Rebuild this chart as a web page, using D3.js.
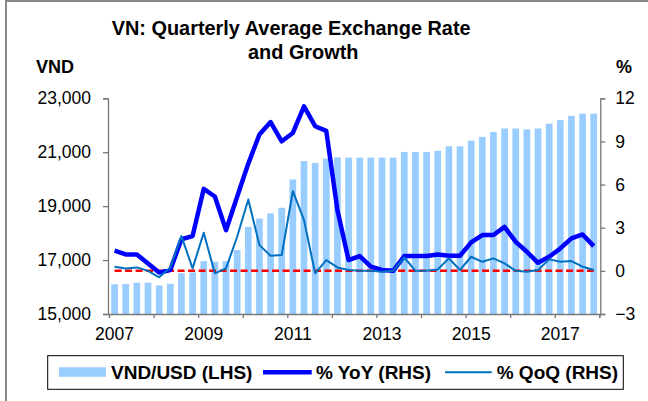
<!DOCTYPE html>
<meta charset="utf-8">
<style>
body { margin: 0; background: #fff; }
text { font-family: "Liberation Sans", Arial, sans-serif; fill: #000; }
.axis text { font-size: 17.5px; }
.axis path, .axis line { stroke: #777; stroke-width: 1.3; }
.bold { font-weight: bold; }
</style>
<body>
<script src="https://cdnjs.cloudflare.com/ajax/libs/d3/7.8.5/d3.min.js"></script>
<script>

// quarterly categories, 2007Q1 .. 2017Q4
var quarters = [
  "2007Q1","2007Q2","2007Q3","2007Q4","2008Q1","2008Q2","2008Q3","2008Q4",
  "2009Q1","2009Q2","2009Q3","2009Q4","2010Q1","2010Q2","2010Q3","2010Q4",
  "2011Q1","2011Q2","2011Q3","2011Q4","2012Q1","2012Q2","2012Q3","2012Q4",
  "2013Q1","2013Q2","2013Q3","2013Q4","2014Q1","2014Q2","2014Q3","2014Q4",
  "2015Q1","2015Q2","2015Q3","2015Q4","2016Q1","2016Q2","2016Q3","2016Q4",
  "2017Q1","2017Q2","2017Q3","2017Q4"
];

// VND per USD, quarterly average (LHS)
var vndUsd = [
  16100,16110,16160,16160,16060,16120,16510,16540,
  16960,16940,16960,17370,18230,18540,18730,18940,
  19990,20670,20600,20760,20810,20800,20800,20800,
  20800,20800,21010,21010,21010,21050,21220,21220,
  21430,21570,21750,21880,21880,21850,21880,22060,
  22190,22350,22430,22430
];

// % YoY (RHS)
var yoy = [
  1.40,1.14,1.14,0.52,-0.12,0.06,2.20,2.42,
  5.70,5.17,2.83,5.15,7.46,9.48,10.35,9.01,
  9.59,11.44,10.06,9.73,4.22,0.75,1.03,0.29,
  0.06,0.00,1.03,1.03,1.03,1.14,1.05,1.05,
  1.98,2.49,2.49,3.06,2.02,1.33,0.56,0.98,
  1.56,2.26,2.53,1.72
];

// % QoQ (RHS)
var qoq = [
  0.29,0.17,0.24,0.00,-0.45,0.24,2.42,0.17,
  2.65,-0.17,0.17,2.37,4.96,1.79,1.05,1.10,
  5.54,3.53,-0.17,0.75,0.24,0.06,0.00,0.00,
  -0.06,0.00,0.93,0.00,0.00,0.10,0.87,0.06,
  0.98,0.63,0.87,0.52,0.00,-0.06,0.06,0.80,
  0.63,0.68,0.29,0.06
];

var leftTicks = [15000,17000,19000,21000,23000];
var rightTicks = [-3,0,3,6,9,12];
var yearLabels = ["2007Q1","2009Q1","2011Q1","2013Q1","2015Q1","2017Q1"];

var W = 648, H = 401;
// plot box (note: "top" is reserved on window, so p-prefixed names)
var pLeft = 109, pRight = 599.3, pTop = 98.3, pBottom = 314;

var svg = d3.select("body").append("svg").attr("width", W).attr("height", H);

// outer frame (only top/left edges visible in the picture)
svg.append("path").attr("d", "M6," + H + "V1H" + W)
   .attr("fill", "none").attr("stroke", "#888").attr("stroke-width", 2);

var x = d3.scaleBand().domain(quarters).range([pLeft, pRight])
          .paddingInner(0.4).paddingOuter(0.2);
var xLin = d3.scaleLinear().domain([0, quarters.length]).range([pLeft, pRight]);
var yL = d3.scaleLinear().domain([15000, 23000]).range([pBottom, pTop]);
var yR = d3.scaleLinear().domain([-3, 12]).range([pBottom, pTop]);

function cx(d, i) { return x(quarters[i]) + x.bandwidth() / 2; }

// bars
svg.append("g").selectAll("rect").data(vndUsd).enter().append("rect")
   .attr("x", function(d, i) { return x(quarters[i]); })
   .attr("y", function(d) { return yL(d); })
   .attr("width", x.bandwidth())
   .attr("height", function(d) { return pBottom - yL(d); })
   .attr("fill", "#99CCFF");

// zero line
svg.append("line")
   .attr("x1", cx(0, 0)).attr("x2", cx(0, quarters.length - 1))
   .attr("y1", yR(0)).attr("y2", yR(0))
   .attr("stroke", "#FF0000").attr("stroke-width", 2.5)
   .attr("stroke-dasharray", "7,3.5");

var line = d3.line().x(cx).y(function(d) { return yR(d); });

svg.append("path").datum(yoy).attr("d", line)
   .attr("fill", "none").attr("stroke", "#0000FF").attr("stroke-width", 4.5)
   .attr("stroke-linejoin", "round");

svg.append("path").datum(qoq).attr("d", line)
   .attr("fill", "none").attr("stroke", "#0070C0").attr("stroke-width", 2)
   .attr("stroke-linejoin", "round");

// axes
svg.append("g").attr("class", "axis")
   .attr("transform", "translate(" + (pLeft - 1) + ",0)")
   .call(d3.axisLeft(yL).tickValues(leftTicks).tickSize(5).tickPadding(12)
         .tickFormat(d3.format(",")));

svg.append("g").attr("class", "axis")
   .attr("transform", "translate(" + (pRight + 1) + ",0)")
   .call(d3.axisRight(yR).tickValues(rightTicks).tickSize(5).tickPadding(10));

svg.append("g").attr("class", "axis")
   .attr("transform", "translate(0," + pBottom + ")")
   .call(d3.axisBottom(xLin).tickValues(d3.range(0, quarters.length + 1, 4))
         .tickSize(4).tickFormat(""));

var xl = svg.append("g").attr("class", "axis")
   .attr("transform", "translate(0," + pBottom + ")")
   .call(d3.axisBottom(x).tickValues(yearLabels).tickSize(0).tickPadding(14)
         .tickFormat(function(d) { return d.slice(0, 4); }));
xl.select(".domain").remove();
svg.selectAll(".axis .tick text").attr("fill", "#000");

// titles
svg.append("text").attr("class", "bold").attr("x", 111.7).attr("y", 35)
   .style("font-size", "19.9px").text("VN: Quarterly Average Exchange Rate");
svg.append("text").attr("class", "bold").attr("x", 248).attr("y", 58.5)
   .style("font-size", "19.9px").text("and Growth");
svg.append("text").attr("class", "bold").attr("x", 36).attr("y", 73.3)
   .style("font-size", "18px").text("VND");
svg.append("text").attr("class", "bold").attr("x", 616).attr("y", 73.3)
   .style("font-size", "18px").text("%");

// legend
var lg = svg.append("g");
lg.append("rect").attr("x", 47.7).attr("y", 355.7).attr("width", 575.6).attr("height", 33.6)
  .attr("fill", "#fff").attr("stroke", "#000").attr("stroke-width", 1);
lg.append("rect").attr("x", 59).attr("y", 367.3).attr("width", 47).attr("height", 9.5)
  .attr("fill", "#99CCFF");
lg.append("line").attr("x1", 263).attr("x2", 311.7).attr("y1", 372.3).attr("y2", 372.3)
  .attr("stroke", "#0000FF").attr("stroke-width", 4.5);
lg.append("line").attr("x1", 445).attr("x2", 491.7).attr("y1", 372.3).attr("y2", 372.3)
  .attr("stroke", "#0070C0").attr("stroke-width", 2);
var legendText = [["VND/USD (LHS)", 111], ["% YoY (RHS)", 316], ["% QoQ (RHS)", 496.7]];
lg.selectAll("text.lt").data(legendText).enter().append("text")
  .attr("class", "lt bold").attr("x", function(d) { return d[1]; }).attr("y", 379)
  .style("font-size", "19px").text(function(d) { return d[0]; });

</script>
</body>
